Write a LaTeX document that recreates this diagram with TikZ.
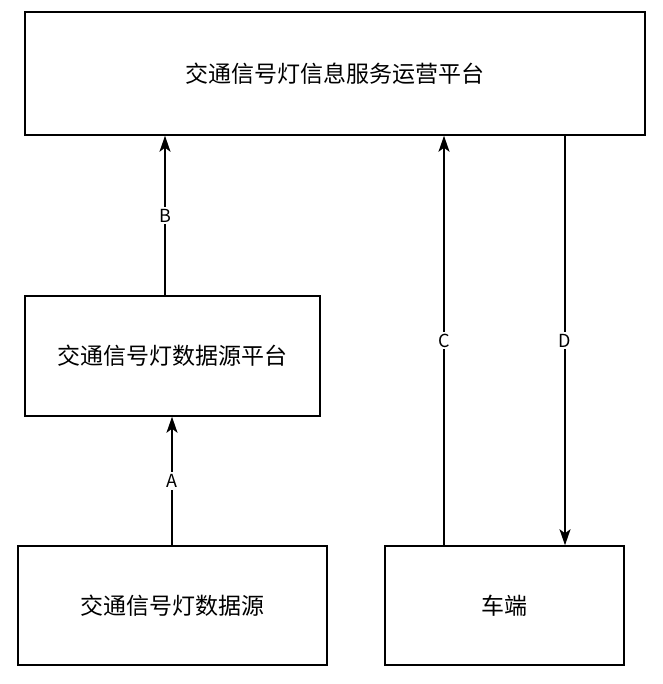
\documentclass[tikz,border=0pt]{standalone}
\usepackage{fontspec}
\setmainfont{Noto Sans CJK SC}
\usetikzlibrary{arrows.meta}
\begin{document}
\begin{tikzpicture}[x=1pt,y=-1pt,
  box/.style={draw,line width=1.5pt,inner sep=0pt,font=\fontsize{23}{26}\selectfont},
  arr/.style={-{Stealth[length=16pt,width=11pt,inset=4pt]},line width=1.6pt},
  lab/.style={fill=white,inner sep=2pt,font=\fontsize{18}{21}\selectfont}]
\useasboundingbox (0,0) rectangle (662,684);
\node[box,minimum width=620pt,minimum height=123pt] (top) at (335,73.5) {交通信号灯信息服务运营平台};
\node[box,minimum width=295pt,minimum height=120pt] (mid) at (172.5,356) {交通信号灯数据源平台};
\node[box,minimum width=309pt,minimum height=119pt] (src) at (172.5,605.5) {交通信号灯数据源};
\node[box,minimum width=239pt,minimum height=119pt] (car) at (504.5,605.5) {车端};
\draw[arr] (mid.north -| 165,0) -- node[lab]{B} (top.south -| 165,0);
\draw[arr] (src.north -| 172,0) -- node[lab]{A} (mid.south -| 172,0);
\draw[arr] (car.north -| 444,0) -- node[lab]{C} (top.south -| 444,0);
\draw[arr] (top.south -| 565,0) -- node[lab]{D} (car.north -| 565,0);
\end{tikzpicture}
\end{document}
